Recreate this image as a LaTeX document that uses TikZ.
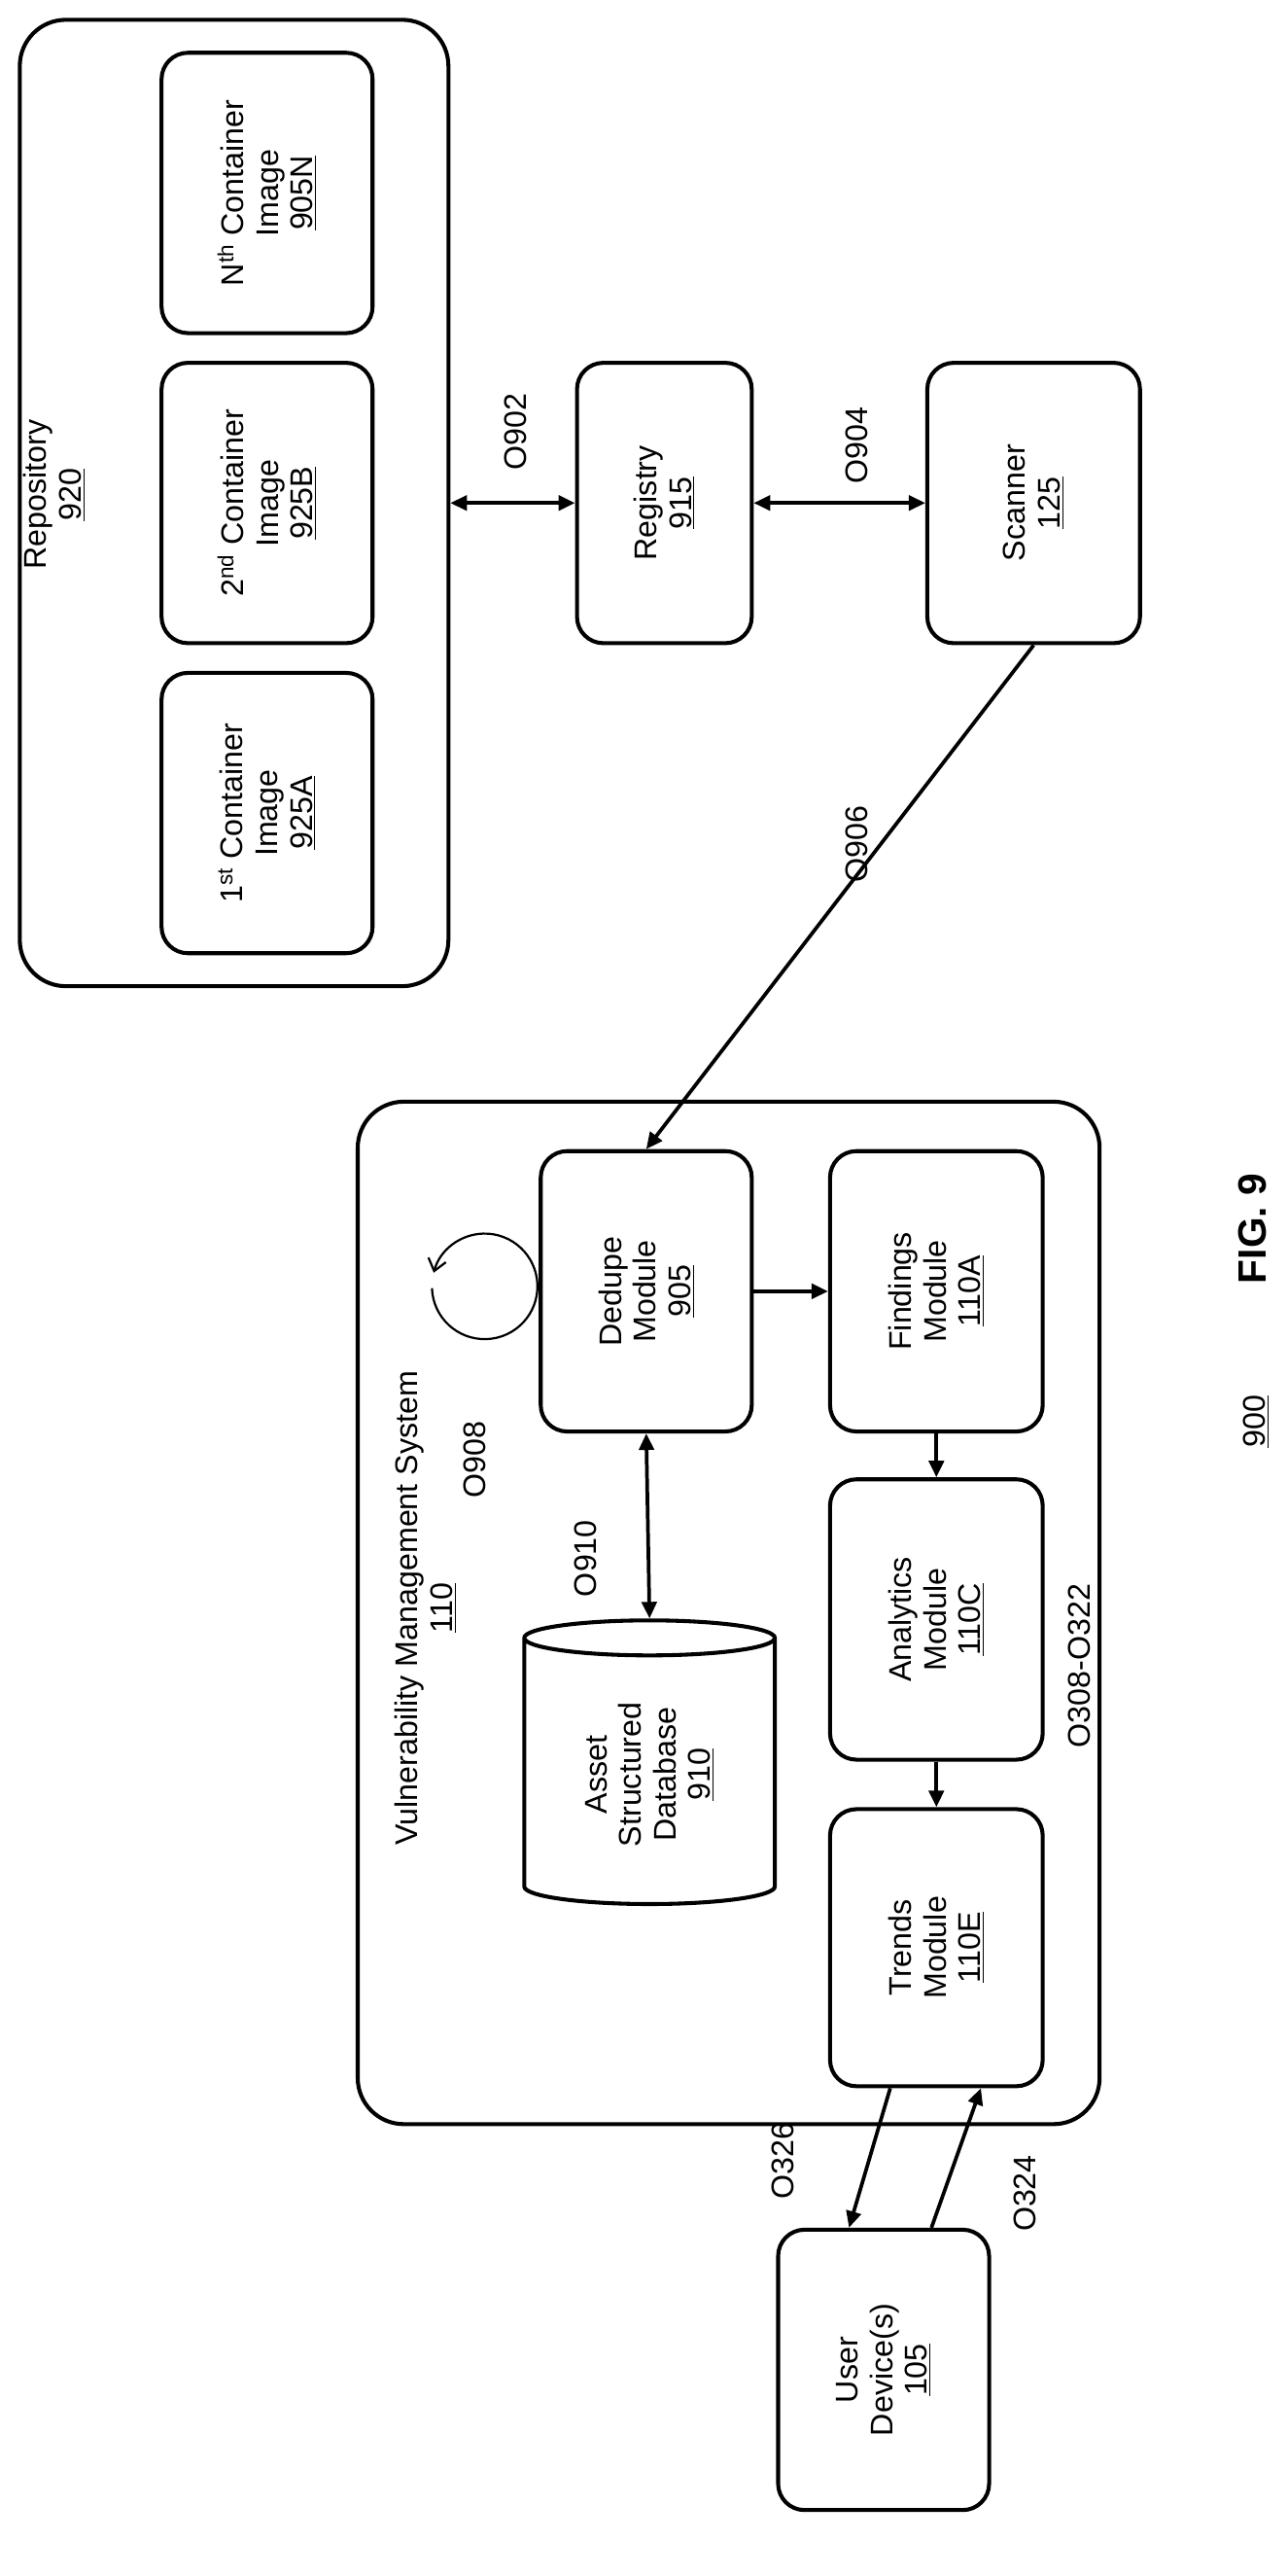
\documentclass[tikz,border=0pt]{standalone}
\usepackage{fontspec}
\setmainfont{Liberation Sans}
\usetikzlibrary{shapes.geometric,arrows.meta,calc}
\begin{document}
\begin{tikzpicture}[x=1pt,y=-1pt,
 txt/.style={font=\fontsize{19}{21}\selectfont,rotate=90,align=center},
 box/.style={txt,draw,line width=2.4pt,rounded corners=16pt},
 big/.style={draw,line width=2.4pt,rounded corners=28pt},
 arr/.style={line width=2.2pt,-{Triangle[length=10pt,width=9pt]}},
 darr/.style={line width=2.2pt,{Triangle[length=10pt,width=9pt]}-{Triangle[length=10pt,width=9pt]}}]
\useasboundingbox (0,0) rectangle (781,1562);
% Repository
\node[big,minimum width=586,minimum height=260,rotate=90] (repo) at (142,305) {};
\node[txt] (repol) at (33,300) {Repository\\\underline{920}};
\node[box,minimum width=170,minimum height=128] (c1) at (162,493) {1\textsuperscript{st} Container\\Image\\\underline{925A}};
\node[box,minimum width=170,minimum height=128] (c2) at (162,305) {2\textsuperscript{nd} Container\\Image\\\underline{925B}};
\node[box,minimum width=170,minimum height=128] (cn) at (162,117) {N\textsuperscript{th} Container\\Image\\\underline{905N}};
\node[box,minimum width=170,minimum height=106] (reg) at (403,305) {Registry\\\underline{915}};
\node[box,minimum width=170,minimum height=129] (scan) at (627,305) {Scanner\\\underline{125}};
\draw[darr] (repo.south) -- (reg.north);
\draw[darr] (reg.south) -- (scan.north);
\node[txt] (l902) at (313,262) {O902};
\node[txt] (l904) at (520,270) {O904};
% VMS
\node[big,minimum width=620,minimum height=450,rotate=90] (vms) at (442,978) {};
\node[txt] (vmsl) at (258,975) {Vulnerability Management System\\\underline{110}};
\node[box,minimum width=170,minimum height=128] (dd) at (392,783) {Dedupe\\Module\\\underline{905}};
\node[box,minimum width=170,minimum height=129] (fm) at (568,783) {Findings\\Module\\\underline{110A}};
\node[box,minimum width=170,minimum height=129] (am) at (568,982) {Analytics\\Module\\\underline{110C}};
\node[box,minimum width=168,minimum height=129] (tm) at (568,1181) {Trends\\Module\\\underline{110E}};
\node[txt,draw,line width=2.4pt,cylinder,aspect=0.25,minimum height=172,minimum width=152] (db) at (394,1076) {Asset\\Structured\\Database\\\underline{910}};
\draw[arr] (scan.west) -- (dd.east);
\node[txt] (l906) at (520,512) {O906};
\draw[arr] (dd.south) -- (fm.north);
\draw[arr] (fm.west) -- (am.east);
\draw[arr] (am.west) -- (tm.east);
\draw[darr] (dd.west) -- (db.top);
\node[txt] (l910) at (355,945) {O910};
\coordinate (lc) at (294,780);
\draw[line width=1.3pt,-{Straight Barb[length=7pt,width=11pt]}] ($(lc)+(178:32)$) arc[start angle=178,end angle=-165,radius=32];
\node[txt] (l908) at (288,885) {O908};
\node[txt] (l308) at (655,1010) {O308-O322};
% user
\node[box,minimum width=170,minimum height=128] (ud) at (536,1437) {User\\Device(s)\\\underline{105}};
\draw[arr] ([xshift=-28pt]tm.west) -- ([xshift=-21pt]ud.east);
\draw[arr] ([xshift=29pt]ud.east) -- ([xshift=27pt]tm.west);
\node[txt] (l326) at (475,1310) {O326};
\node[txt] (l324) at (622,1330) {O324};
\node[txt] (num) at (762,862) {\underline{900}};
\node[txt,font=\fontsize{24}{26}\selectfont\bfseries] (fig) at (760,745) {FIG. 9};
\end{tikzpicture}
\end{document}
